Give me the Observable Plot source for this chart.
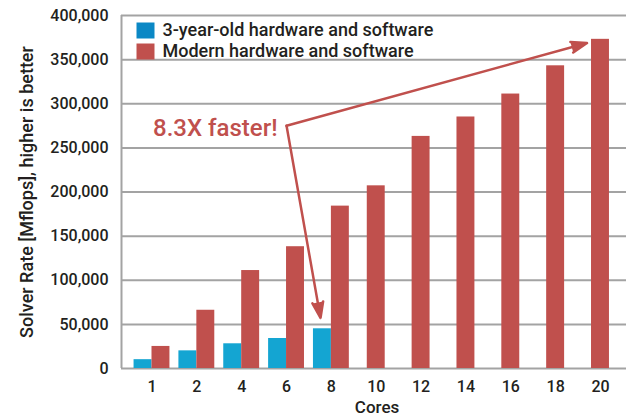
<!DOCTYPE html>
<html><head><meta charset="utf-8">
<script src="https://cdn.jsdelivr.net/npm/d3@7"></script>
<script src="https://cdn.jsdelivr.net/npm/@observablehq/plot@0.6"></script>
<style>html,body{margin:0;padding:0;background:#fff;} #chart svg{display:block}</style>
</head><body><div id="chart"></div>
<script>
// ---- data ----
const cores = ["1","2","4","6","8","10","12","14","16","18","20"];
const oldValues = [10000, 20000, 28000, 34000, 45000];           // cores 1–8
const modernValues = [25000, 66000, 111000, 138000, 184000, 207000, 263000, 285000, 311000, 343000, 373000];
const seriesNames = ["3-year-old hardware and software", "Modern hardware and software"];
const yTicks = [0, 50000, 100000, 150000, 200000, 250000, 300000, 350000, 400000];
const yLabel = "Solver Rate [Mflops], higher is better";
const xLabel = "Cores";
const calloutCore = "6";
const calloutValue = 275000;

// ---- style ----
const RED = "#c0504d", BLUE = "#14a5d2", LEGEND_BLUE = "#0b88c5", GRID = "#a3a3a3", INK = "#231f20";
const FONT = "Roboto";
const BAR = 0.4;                 // bar width, in category slots
const xDomain = [-0.68, 10.58];

const oldRows = oldValues.map((v, i) => ({i, value: v}));
const modernRows = modernValues.map((v, i) => ({i, value: v, paired: i < oldValues.length}));
const ratio = (modernValues[modernValues.length - 1] / oldValues[oldValues.length - 1]).toFixed(1);
const elbow = {i: cores.indexOf(calloutCore), value: calloutValue};
const lastOld = oldRows[oldRows.length - 1];
const lastModern = modernRows[modernRows.length - 1];

const legendSquare = {draw(ctx) { ctx.rect(-9, -8, 18, 16); }};
const textStyle = {fontWeight: 500, fill: INK, lineAnchor: "middle"};

const chart = Plot.plot({
  width: 626, height: 418,
  marginLeft: 121, marginRight: 0, marginTop: 15, marginBottom: 50,
  style: {fontFamily: FONT, color: INK, background: "white", overflow: "visible"},
  x: {type: "linear", domain: xDomain},
  y: {domain: [0, 400000]},
  marks: [
    Plot.ruleY(yTicks, {stroke: GRID, strokeWidth: 2}),
    Plot.ruleX([xDomain[0]], {stroke: GRID, strokeWidth: 2}),
    Plot.rectY(oldRows, {x1: d => d.i - BAR, x2: d => d.i, y1: 0, y2: "value", fill: BLUE}),
    Plot.rectY(modernRows, {
      x1: d => d.paired ? d.i : d.i - BAR / 2,
      x2: d => d.paired ? d.i + BAR : d.i + BAR / 2,
      y1: 0, y2: "value", fill: RED
    }),
    Plot.axisX({ticks: d3.range(cores.length), tickFormat: i => cores[i], tickSize: 0, tickPadding: 12,
      fontSize: 16, fontWeight: 500, label: null}),
    Plot.axisY({ticks: yTicks, tickFormat: d3.format(","), tickSize: 0, tickPadding: 13,
      fontSize: 16, fontWeight: 500, label: null}),
    Plot.text([yLabel], {...textStyle, frameAnchor: "left", textAnchor: "middle", dx: -94, rotate: -90, fontSize: 18}),
    Plot.text([xLabel], {...textStyle, frameAnchor: "bottom", textAnchor: "middle", dx: 3, dy: 39, fontSize: 17}),
    // legend
    Plot.dot([seriesNames[0]], {frameAnchor: "top-left", dx: 24, dy: 15, symbol: legendSquare, fill: LEGEND_BLUE, stroke: null}),
    Plot.dot([seriesNames[1]], {frameAnchor: "top-left", dx: 24, dy: 36, symbol: legendSquare, fill: RED, stroke: null}),
    Plot.text([seriesNames[0]], {...textStyle, frameAnchor: "top-left", dx: 41, dy: 15, textAnchor: "start", fontSize: 18}),
    Plot.text([seriesNames[1]], {...textStyle, frameAnchor: "top-left", dx: 41, dy: 36, textAnchor: "start", fontSize: 18}),
    // callout
    Plot.arrow([elbow], {x1: "i", y1: "value", x2: () => lastModern.i, y2: () => lastModern.value,
      stroke: RED, fill: RED, strokeWidth: 2.5, headLength: 10, headAngle: 38, insetEnd: 14}),
    Plot.arrow([elbow], {x1: "i", y1: "value", x2: () => lastOld.i - BAR / 2, y2: () => lastOld.value,
      stroke: RED, fill: RED, strokeWidth: 2.5, headLength: 10, headAngle: 38, insetEnd: 11}),
    Plot.text([elbow], {x: "i", y: "value", text: () => `${ratio}X faster!`, textAnchor: "end", lineAnchor: "middle",
      dx: -9, dy: 2, fill: RED, fontSize: 24, fontWeight: 500})
  ]
});
document.getElementById("chart").append(chart);
</script>
</body></html>
